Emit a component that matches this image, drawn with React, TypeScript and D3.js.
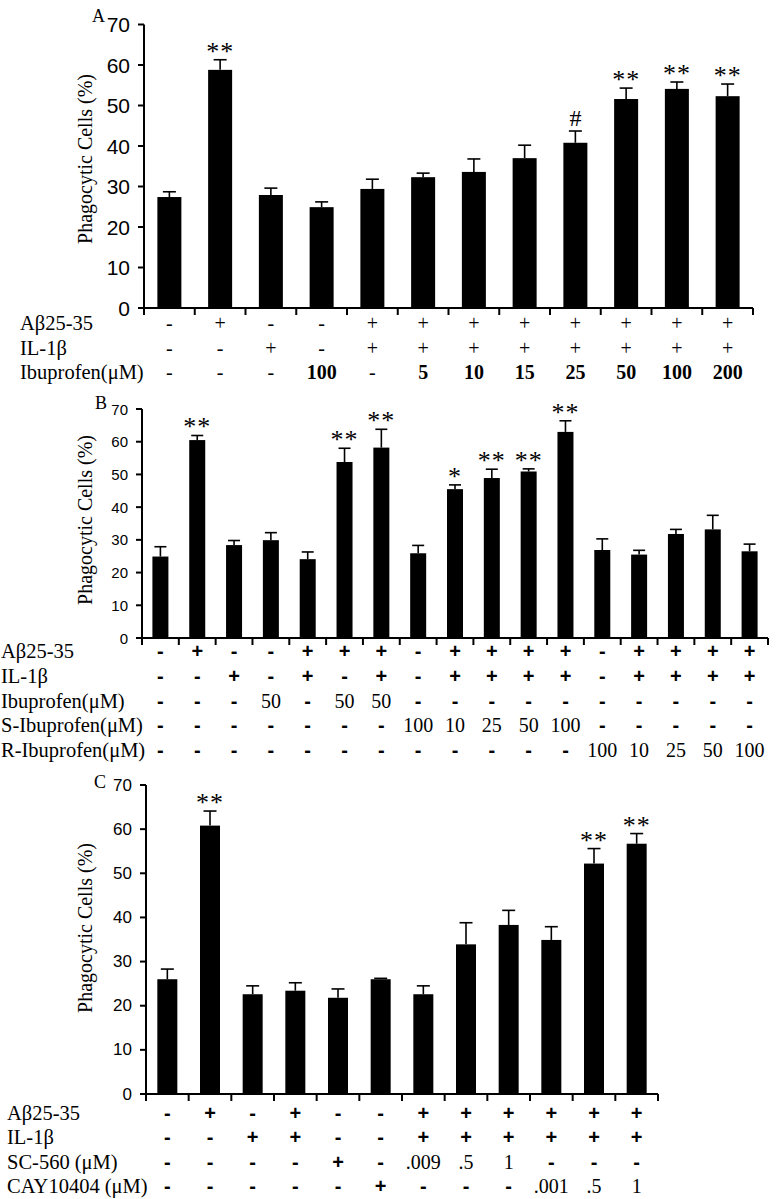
import React from "react";
import * as d3 from "d3";

// y axis ticks shared by all three panels
const yTicks = [0, 10, 20, 30, 40, 50, 60, 70];
const yTitle = "Phagocytic Cells (%)";

// Panel A
const aMeans = [27.4, 58.8, 27.9, 24.9, 29.4, 32.3, 33.6, 37.0, 40.8, 51.6, 54.1, 52.3];
const aSems = [1.3, 2.5, 1.7, 1.3, 2.4, 1.0, 3.2, 3.2, 2.9, 2.7, 1.7, 3.0];
const aMarks = ["", "**", "", "", "", "", "", "", "#", "**", "**", "**"];
const aAbeta = ["-", "+", "-", "-", "+", "+", "+", "+", "+", "+", "+", "+"];
const aIL = ["-", "-", "+", "-", "+", "+", "+", "+", "+", "+", "+", "+"];
const aIbu = ["-", "-", "-", "100", "-", "5", "10", "15", "25", "50", "100", "200"];

// Panel B
const bMeans = [24.9, 60.5, 28.4, 29.9, 24.1, 53.8, 58.2, 25.9, 45.5, 48.9, 50.9, 63.0, 26.9, 25.5, 31.8, 33.2, 26.5];
const bSems = [3.0, 1.4, 1.4, 2.3, 2.2, 4.2, 5.6, 2.4, 1.3, 2.7, 0.8, 3.4, 3.4, 1.3, 1.4, 4.3, 2.2];
const bMarks = ["", "**", "", "", "", "**", "**", "", "*", "**", "**", "**", "", "", "", "", ""];
const bAbeta = ["-", "+", "-", "-", "+", "+", "+", "-", "+", "+", "+", "+", "-", "+", "+", "+", "+"];
const bIL = ["-", "-", "+", "-", "+", "-", "+", "-", "+", "+", "+", "+", "-", "+", "+", "+", "+"];
const bIbu = ["-", "-", "-", "50", "-", "50", "50", "-", "-", "-", "-", "-", "-", "-", "-", "-", "-"];
const bSIbu = ["-", "-", "-", "-", "-", "-", "-", "100", "10", "25", "50", "100", "-", "-", "-", "-", "-"];
const bRIbu = ["-", "-", "-", "-", "-", "-", "-", "-", "-", "-", "-", "-", "100", "10", "25", "50", "100"];

// Panel C
const cMeans = [26.0, 60.8, 22.6, 23.4, 21.8, 26.0, 22.6, 33.9, 38.3, 34.9, 52.2, 56.7];
const cSems = [2.3, 3.3, 1.9, 1.8, 2.0, 0.2, 1.9, 4.9, 3.3, 3.0, 3.4, 2.3];
const cMarks = ["", "**", "", "", "", "", "", "", "", "", "**", "**"];
const cAbeta = ["-", "+", "-", "+", "-", "-", "+", "+", "+", "+", "+", "+"];
const cIL = ["-", "-", "+", "+", "-", "-", "+", "+", "+", "+", "+", "+"];
const cSC = ["-", "-", "-", "-", "+", "-", ".009", ".5", "1", "-", "-", "-"];
const cCAY = ["-", "-", "-", "-", "-", "+", "-", "-", "-", ".001", ".5", "1"];

const SERIF = "'Liberation Serif', 'Times New Roman', serif";
const SANS = "'Liberation Sans', Arial, sans-serif";

type Row = { label: string; values: string[] };

type PanelProps = {
  letter: string;
  means: number[];
  sems: number[];
  marks: string[];
  rows: Row[];
  signsBold: boolean;
  x0: number;
  x1: number;
  yTop: number;
  yZero: number;
  barWidth: number;
  capWidth: number;
  tickFont: number;
  letterX: number;
  letterY: number;
  titleCy: number;
  rowY: number;
  rowStep: number;
  labelX: number;
};

const Panel = (p: PanelProps) => {
  const idx = p.means.map((_, i) => i);
  const x = d3.scaleBand<number>().domain(idx).range([p.x0, p.x1]);
  const y = d3.scaleLinear().domain([0, 70]).range([p.yZero, p.yTop]);
  const bw = x.bandwidth();
  const cx = (i: number) => (x(i) as number) + bw / 2;
  const bounds = idx.map((i) => x(i) as number).concat([p.x1]);

  return (
    <g>
      <text x={p.letterX} y={p.letterY} fontFamily={SERIF} fontSize={18}>
        {p.letter}
      </text>
      <text
        transform={`translate(87,${p.titleCy}) rotate(-90)`}
        textAnchor="middle"
        dominantBaseline="middle"
        fontFamily={SERIF}
        fontSize={20}
      >
        {yTitle}
      </text>

      {/* bars */}
      {p.means.map((m, i) => (
        <rect
          key={"b" + i}
          x={cx(i) - p.barWidth / 2}
          y={y(m)}
          width={p.barWidth}
          height={y(0) - y(m)}
          fill="#000"
        />
      ))}

      {/* upper error bars */}
      {p.means.map((m, i) => {
        const top = y(m + p.sems[i]);
        return (
          <g key={"e" + i} stroke="#000" strokeWidth={1.6}>
            <line x1={cx(i)} x2={cx(i)} y1={y(m)} y2={top} />
            <line x1={cx(i) - p.capWidth / 2} x2={cx(i) + p.capWidth / 2} y1={top} y2={top} />
          </g>
        );
      })}

      {/* significance marks */}
      {p.marks.map((s, i) =>
        s ? (
          <text
            key={"s" + i}
            x={cx(i)}
            y={y(p.means[i] + p.sems[i]) - (s === "#" ? 5 : 0)}
            textAnchor="middle"
            fontFamily={SERIF}
            fontSize={s === "#" ? 24 : 26}
            letterSpacing={s === "#" ? 0 : 1}
          >
            {s}
          </text>
        ) : null
      )}

      {/* y axis */}
      <line x1={p.x0} x2={p.x0} y1={p.yTop} y2={p.yZero} stroke="#000" strokeWidth={2} />
      {yTicks.map((t) => (
        <g key={"yt" + t}>
          <line x1={p.x0 - 6} x2={p.x0} y1={y(t)} y2={y(t)} stroke="#000" strokeWidth={2} />
          <text
            x={p.x0 - 14}
            y={y(t)}
            textAnchor="end"
            dominantBaseline="central"
            fontFamily={SANS}
            fontSize={p.tickFont}
          >
            {t}
          </text>
        </g>
      ))}

      {/* x axis */}
      <line x1={p.x0} x2={p.x1} y1={p.yZero} y2={p.yZero} stroke="#000" strokeWidth={2} />
      {bounds.map((b, i) => (
        <line key={"xt" + i} x1={b} x2={b} y1={p.yZero} y2={p.yZero + 7} stroke="#000" strokeWidth={2} />
      ))}

      {/* treatment table */}
      {p.rows.map((r, ri) => {
        const ry = p.rowY + ri * p.rowStep;
        return (
          <g key={"r" + ri}>
            <text x={p.labelX} y={ry} fontFamily={SERIF} fontSize={20.5}>
              {r.label}
            </text>
            {r.values.map((v, i) => {
              const sign = v === "+" || v === "-";
              let fam = SERIF;
              let weight: string = "normal";
              if (sign && p.signsBold) {
                fam = SANS;
                weight = "bold";
              } else if (!sign && !p.signsBold) {
                weight = "bold";
              }
              return (
                <text
                  key={i}
                  x={cx(i)}
                  y={ry}
                  textAnchor="middle"
                  fontFamily={fam}
                  fontWeight={weight}
                  fontSize={20}
                >
                  {v}
                </text>
              );
            })}
          </g>
        );
      })}
    </g>
  );
};

const App = () => {
  return (
    <svg
      width={776}
      height={1199}
      style={{ position: "absolute", left: 0, top: 0, background: "#fff" }}
    >
      <rect width={776} height={1199} fill="#fff" />
      <Panel
        letter="A"
        means={aMeans}
        sems={aSems}
        marks={aMarks}
        rows={[
          { label: "Aβ25-35", values: aAbeta },
          { label: "IL-1β", values: aIL },
          { label: "Ibuprofen(μM)", values: aIbu },
        ]}
        signsBold={false}
        x0={144}
        x1={753}
        yTop={24.5}
        yZero={308}
        barWidth={24}
        capWidth={13}
        tickFont={21}
        letterX={92}
        letterY={22}
        titleCy={159}
        rowY={330}
        rowStep={24.5}
        labelX={20}
      />
      <Panel
        letter="B"
        means={bMeans}
        sems={bSems}
        marks={bMarks}
        rows={[
          { label: "Aβ25-35", values: bAbeta },
          { label: "IL-1β", values: bIL },
          { label: "Ibuprofen(μM)", values: bIbu },
          { label: "S-Ibuprofen(μM)", values: bSIbu },
          { label: "R-Ibuprofen(μM)", values: bRIbu },
        ]}
        signsBold={true}
        x0={142}
        x1={768}
        yTop={409}
        yZero={638}
        barWidth={16}
        capWidth={12}
        tickFont={15}
        letterX={95}
        letterY={409}
        titleCy={520}
        rowY={658}
        rowStep={24.8}
        labelX={1}
      />
      <Panel
        letter="C"
        means={cMeans}
        sems={cSems}
        marks={cMarks}
        rows={[
          { label: "Aβ25-35", values: cAbeta },
          { label: "IL-1β", values: cIL },
          { label: "SC-560 (μM)", values: cSC },
          { label: "CAY10404 (μM)", values: cCAY },
        ]}
        signsBold={true}
        x0={146}
        x1={658}
        yTop={785}
        yZero={1094}
        barWidth={20}
        capWidth={13}
        tickFont={17}
        letterX={94}
        letterY={788}
        titleCy={928}
        rowY={1120}
        rowStep={24.4}
        labelX={7}
      />
    </svg>
  );
};

export default App;
